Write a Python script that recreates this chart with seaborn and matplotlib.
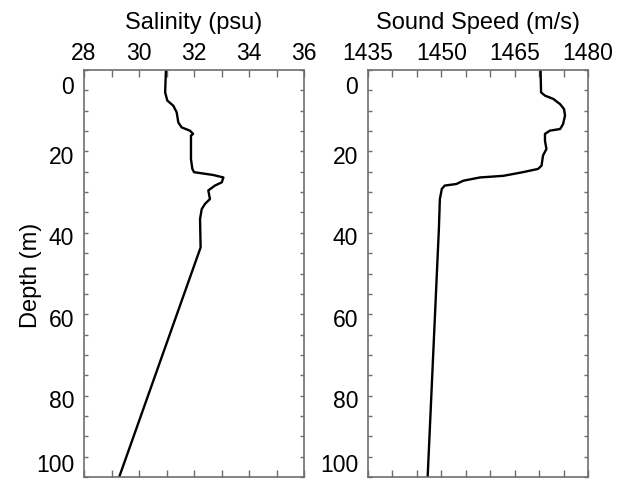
import numpy as np
import pandas as pd
import matplotlib
matplotlib.use("Agg")
import matplotlib.pyplot as plt
import matplotlib.transforms as mtransforms
from matplotlib.ticker import MultipleLocator
import seaborn as sns

# ---- data ----
depth_sal = [0, 5.5, 7.5, 8.8, 10.4, 12.9, 14.1, 14.9, 15.7, 16.1, 21.9, 24.3, 25.1,
             25.8, 26.4, 27.6, 28.4, 29.6, 31.7, 32.9, 34.2, 36.6, 43.6, 100]
salinity = [30.98, 30.95, 31.03, 31.25, 31.37, 31.43, 31.55, 31.85, 31.97, 31.89, 31.89,
            31.94, 32.0, 32.70, 33.07, 33.01, 32.76, 32.52, 32.58, 32.40, 32.28, 32.22,
            32.24, 29.28]

depth_ss = [0, 5.5, 6.3, 7.1, 8.4, 9.6, 11.2, 13.3, 14.5, 14.9, 15.7, 17.4, 19.4, 21.0,
            23.5, 24.3, 25.1, 26.0, 26.4, 27.2, 28.0, 28.4, 29.2, 30.5, 31.7, 39, 100]
sound_speed = [1470.3, 1470.4, 1471.2, 1472.9, 1474.3, 1475.1, 1475.3, 1474.9, 1474.3,
               1472.2, 1471.2, 1471.2, 1471.5, 1470.8, 1470.5, 1469.8, 1466.7, 1462.7,
               1457.9, 1454.5, 1453.1, 1450.7, 1450.1, 1449.9, 1449.7, 1449.5, 1447.2]

sal_ticks = [28, 30, 32, 34, 36]
ss_ticks = [1435, 1450, 1465, 1480]
depth_ticks = [0, 20, 40, 60, 80, 100]

sns.set_style("ticks")
plt.rcParams["font.family"] = ["Liberation Sans", "DejaVu Sans"]
plt.rcParams["text.color"] = "black"
plt.rcParams["axes.labelcolor"] = "black"
plt.rcParams["xtick.labelcolor"] = "black"
plt.rcParams["ytick.labelcolor"] = "black"

W, H = 618, 481
fig = plt.figure(figsize=(W / 100, H / 100), dpi=100)
ax1 = fig.add_axes([84 / W, 3 / H, 220 / W, 407 / H])
ax2 = fig.add_axes([368 / W, 3 / H, 220 / W, 407 / H])

df_s = pd.DataFrame({"depth": depth_sal, "val": salinity})
df_c = pd.DataFrame({"depth": depth_ss, "val": sound_speed})

sns.lineplot(data=df_s, x="val", y="depth", orient="y", sort=True, estimator=None,
             color="black", linewidth=1.7, ax=ax1)
sns.lineplot(data=df_c, x="val", y="depth", orient="y", sort=True, estimator=None,
             color="black", linewidth=1.7, ax=ax2)

axcol = "#6e6e6e"
FS_T = 16.5
FS_L = 17

for ax, xlim, xt, minor, lab in [
    (ax1, (28, 36), sal_ticks, 1, "Salinity (psu)"),
    (ax2, (1435, 1480), ss_ticks, 5, "Sound Speed (m/s)"),
]:
    ax.set_xlim(*xlim)
    ax.set_ylim(100, 0)
    ax.set_xticks(xt)
    ax.set_xticklabels([str(t) for t in xt])
    ax.xaxis.set_minor_locator(MultipleLocator(minor))
    ax.set_yticks(depth_ticks)
    ax.set_yticklabels([str(t) for t in depth_ticks])
    ax.yaxis.set_minor_locator(MultipleLocator(5))
    ax.xaxis.set_label_position("top")
    ax.set_xlabel(lab, fontsize=FS_L, labelpad=9, color="black")
    ax.set_ylabel("")
    for sp in ax.spines.values():
        sp.set_visible(True)
        sp.set_color(axcol)
        sp.set_linewidth(1.2)
    ax.tick_params(axis="x", which="both", top=True, bottom=True, labeltop=True,
                   labelbottom=False, direction="in", length=5, width=1.0,
                   color=axcol, labelcolor="black", labelsize=FS_T, pad=4.5)
    ax.tick_params(axis="y", which="both", left=True, right=True, labelleft=True,
                   labelright=False, direction="in", length=3, width=1.0,
                   color=axcol, labelcolor="black", labelsize=FS_T, pad=7.2)
    ax.grid(False)
    # IDL-like placement of y labels
    labels = ax.get_yticklabels()
    for t, lbl in zip(depth_ticks, labels):
        if t == 0:
            lbl.set_va("top")
            off = mtransforms.ScaledTranslation(0, -5 / 100, fig.dpi_scale_trans)
        elif t == 100:
            lbl.set_va("bottom")
            off = mtransforms.ScaledTranslation(0, 1 / 100, fig.dpi_scale_trans)
        else:
            lbl.set_va("center")
            off = mtransforms.ScaledTranslation(0, -5 / 100, fig.dpi_scale_trans)
        lbl.set_transform(lbl.get_transform() + off)

fig.text(31 / W, 1 - 275 / H, "Depth (m)", rotation=90, ha="center", va="center",
         fontsize=FS_L, color="black")

fig.savefig("out.png", dpi=100, facecolor="white")
